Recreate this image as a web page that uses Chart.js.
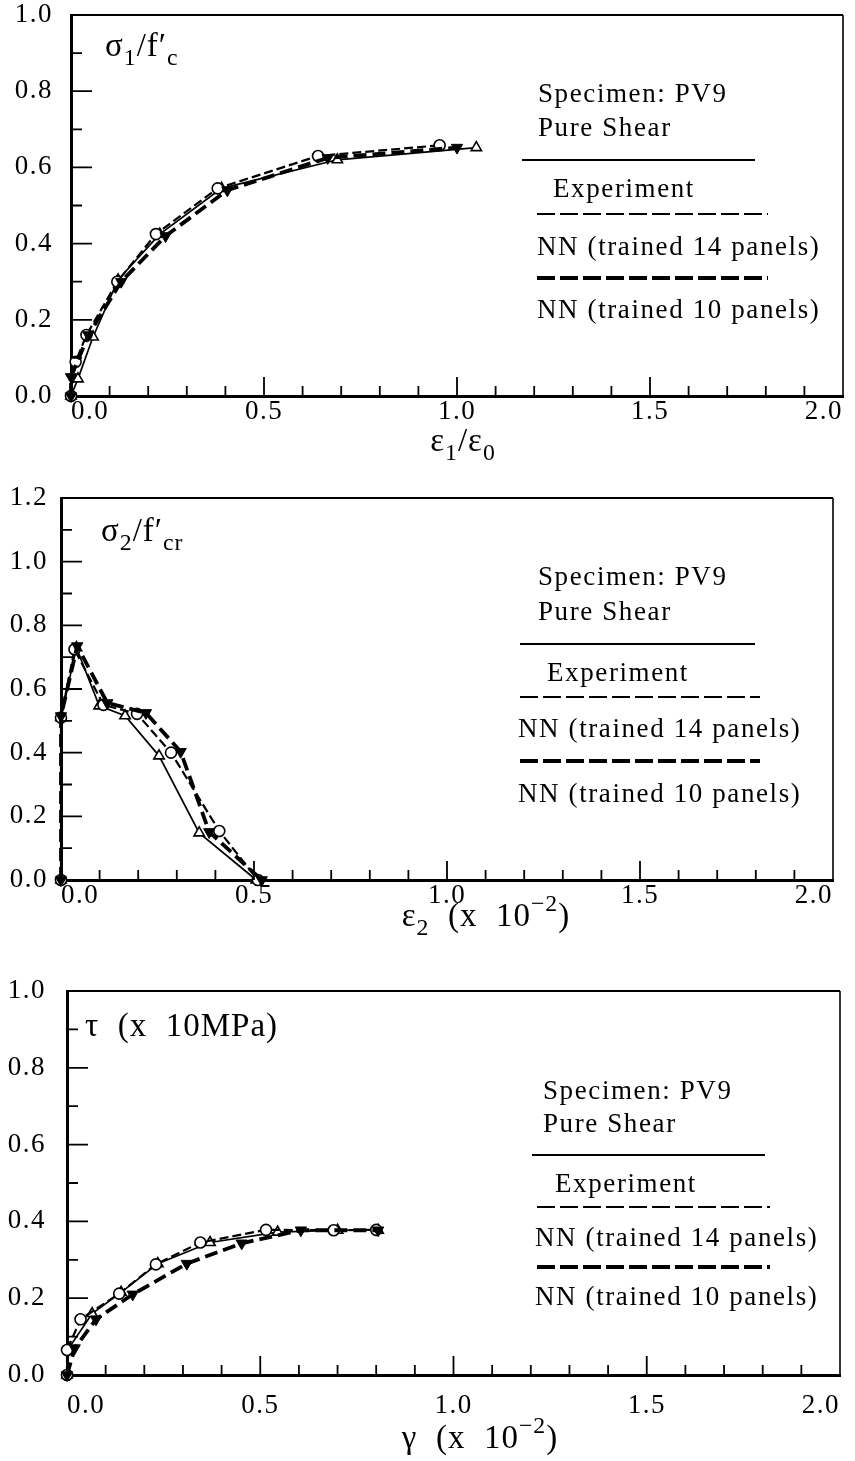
<!DOCTYPE html>
<html>
<head>
<meta charset="utf-8">
<script src="https://cdn.jsdelivr.net/npm/chart.js@4.4.0/dist/chart.umd.min.js"></script>
<style>
    body { margin: 0; background: #fff; width: 855px; height: 1461px; position: relative; overflow: hidden;
           font-family: 'Liberation Serif', 'Times New Roman', serif; color: #000; }
    canvas { position: absolute; left: 0; }
    .txt { position: absolute; white-space: pre; line-height: 1; transform: translateY(-50%); }
    .leg { font-size: 27px; letter-spacing: 1.6px; }
    .ttl { font-size: 33px; letter-spacing: 1px; }
    .mid { transform: translate(-50%, -50%); }
    sub { font-size: 72%; vertical-align: -0.38em; line-height: 0; }
    sup { font-size: 72%; vertical-align: 0.6em; line-height: 0; }
    svg { position: absolute; left: 0; top: 0; }
</style>
</head>
<body>
<canvas id="c1"></canvas>
<canvas id="c2"></canvas>
<canvas id="c3"></canvas>
<svg id="legendLines" width="855" height="1461"></svg>
<div id="labels"></div>

<script>
// 坐标刻度
const xTicks = [0, 0.5, 1.0, 1.5, 2.0];
const yTicks1 = [0, 0.2, 0.4, 0.6, 0.8, 1.0];
const yTicks2 = [0, 0.2, 0.4, 0.6, 0.8, 1.0, 1.2];

// 图1: σ1/f'c - ε1/ε0
const p1ExpX  = [0, 0.018, 0.057, 0.122, 0.23, 0.39, 0.69, 1.05];
const p1ExpY  = [0, 0.045, 0.155, 0.305, 0.425, 0.545, 0.62, 0.652];
const p1Nn14X = [0, 0.012, 0.04, 0.12, 0.22, 0.38, 0.64, 0.955];
const p1Nn14Y = [0, 0.09, 0.16, 0.30, 0.425, 0.545, 0.63, 0.658];
const p1Nn10X = [0, 0.0, 0.045, 0.13, 0.245, 0.405, 0.665, 1.0];
const p1Nn10Y = [0, 0.05, 0.16, 0.30, 0.42, 0.54, 0.625, 0.652];

// 图2: σ2/f'cr - ε2
const p2ExpX  = [0, 0, 0.04, 0.099, 0.166, 0.254, 0.358, 0.506];
const p2ExpY  = [0, 0.51, 0.73, 0.547, 0.516, 0.39, 0.148, 0];
const p2Nn14X = [0, 0, 0.035, 0.11, 0.197, 0.285, 0.41, 0.51];
const p2Nn14Y = [0, 0.51, 0.725, 0.55, 0.522, 0.40, 0.154, 0];
const p2Nn10X = [0, 0, 0.042, 0.12, 0.22, 0.31, 0.384, 0.52];
const p2Nn10Y = [0, 0.515, 0.735, 0.556, 0.525, 0.403, 0.151, 0];

// 图3: τ - γ
const p3ExpX  = [0, 0.005, 0.065, 0.14, 0.235, 0.37, 0.545, 0.70, 0.805];
const p3ExpY  = [0, 0.07, 0.16, 0.215, 0.29, 0.345, 0.372, 0.377, 0.377];
const p3Nn14X = [0, 0.0, 0.035, 0.135, 0.23, 0.345, 0.515, 0.69, 0.80];
const p3Nn14Y = [0, 0.065, 0.145, 0.212, 0.288, 0.345, 0.378, 0.377, 0.378];
const p3Nn10X = [0, 0.02, 0.075, 0.17, 0.31, 0.452, 0.605, 0.805];
const p3Nn10Y = [0, 0.07, 0.145, 0.21, 0.29, 0.343, 0.377, 0.377];

const legendText = ['Specimen: PV9', 'Pure Shear', 'Experiment', 'NN (trained 14 panels)', 'NN (trained 10 panels)'];

function pts(xs, ys) {
    return xs.map((x, i) => ({ x: x, y: ys[i] }));
}

function makeSets(ex, ey, ax, ay, bx, by) {
    return [
        { label: 'Experiment', data: pts(ex, ey), borderColor: '#000', borderWidth: 1.7,
          pointStyle: 'triangle', pointRadius: 6, pointBackgroundColor: '#fff',
          pointBorderColor: '#000', pointBorderWidth: 1.6, order: 3 },
        { label: 'NN (trained 14 panels)', data: pts(ax, ay), borderColor: '#000', borderWidth: 2.2,
          borderDash: [9, 4], pointStyle: 'circle', pointRadius: 5.5, pointBackgroundColor: '#fff',
          pointBorderColor: '#000', pointBorderWidth: 1.6, order: 2 },
        { label: 'NN (trained 10 panels)', data: pts(bx, by), borderColor: '#000', borderWidth: 3.8,
          borderDash: [13, 6], pointStyle: 'triangle', pointRotation: 180, pointRadius: 6.5,
          pointBackgroundColor: '#000', pointBorderColor: '#000', pointBorderWidth: 1, order: 1 }
    ];
}

// 边框 + 向内刻度
const frameTicks = {
    id: 'frameTicks',
    beforeDraw(chart) {
        chart.ctx.letterSpacing = '1.5px';
    },
    afterDraw(chart) {
        const { ctx, chartArea: a, scales: { x, y } } = chart;
        ctx.save();
        ctx.strokeStyle = '#000';
        ctx.lineWidth = 2.2;
        ctx.beginPath();
        ctx.moveTo(a.left, a.top);
        ctx.lineTo(a.right, a.top);
        ctx.stroke();
        ctx.lineWidth = 1.6;
        ctx.beginPath();
        ctx.moveTo(a.right, a.top);
        ctx.lineTo(a.right, a.bottom);
        ctx.stroke();

        ctx.lineWidth = 1.8;
        ctx.beginPath();
        for (let i = 1; i * 0.1 < x.max - 1e-6; i++) {
            const px = x.getPixelForValue(i * 0.1);
            const len = i % 5 === 0 ? 19 : 10;
            ctx.moveTo(px, a.bottom);
            ctx.lineTo(px, a.bottom - len);
        }
        for (let i = 1; i * 0.1 < y.max - 1e-6; i++) {
            const py = y.getPixelForValue(i * 0.1);
            const len = i % 2 === 0 ? 21 : 11;
            ctx.moveTo(a.left, py);
            ctx.lineTo(a.left + len, py);
        }
        ctx.stroke();
        ctx.restore();
    }
};

const panels = [
    { id: 'c1', top: 0, height: 455, left: 71, right: 843, areaTop: 15, areaBottom: 396,
      yMax: 1.0, yTicks: yTicks1, yPad: 18, xPad: 0,
      sets: makeSets(p1ExpX, p1ExpY, p1Nn14X, p1Nn14Y, p1Nn10X, p1Nn10Y) },
    { id: 'c2', top: 460, height: 480, left: 61, right: 833, areaTop: 498, areaBottom: 880,
      yMax: 1.2, yTicks: yTicks2, yPad: 13, xPad: 0,
      sets: makeSets(p2ExpX, p2ExpY, p2Nn14X, p2Nn14Y, p2Nn10X, p2Nn10Y) },
    { id: 'c3', top: 950, height: 511, left: 67, right: 840, areaTop: 991, areaBottom: 1375,
      yMax: 1.0, yTicks: yTicks1, yPad: 21, xPad: 15,
      sets: makeSets(p3ExpX, p3ExpY, p3Nn14X, p3Nn14Y, p3Nn10X, p3Nn10Y) }
];

const tickFont = { family: "'Liberation Serif', serif", size: 27 };

panels.forEach(p => {
    const cv = document.getElementById(p.id);
    cv.width = 855;
    cv.height = p.height;
    cv.style.top = p.top + 'px';
    const xH = p.top + p.height - p.areaBottom;

    new Chart(cv, {
        type: 'scatter',
        data: { datasets: p.sets.map(s => Object.assign({ showLine: true, tension: 0, clip: false, fill: false }, s)) },
        options: {
            responsive: false,
            animation: false,
            events: [],
            layout: { padding: { top: p.areaTop - p.top, right: 855 - p.right, left: 0, bottom: 0 } },
            plugins: { legend: { display: false }, tooltip: { enabled: false } },
            scales: {
                x: {
                    type: 'linear', min: 0, max: 2.0,
                    grid: { display: false, drawTicks: false },
                    border: { display: true, color: '#000', width: 3 },
                    afterBuildTicks: s => { s.ticks = xTicks.map(v => ({ value: v })); },
                    afterFit: s => { s.height = xH; s.paddingLeft = 0; s.paddingRight = 0; },
                    ticks: { color: '#000', font: tickFont, padding: p.xPad, align: 'inner',
                             maxRotation: 0, autoSkip: false, callback: v => v.toFixed(1) }
                },
                y: {
                    type: 'linear', min: 0, max: p.yMax,
                    grid: { display: false, drawTicks: false },
                    border: { display: true, color: '#000', width: 3 },
                    afterBuildTicks: s => { s.ticks = p.yTicks.map(v => ({ value: v })); },
                    afterFit: s => { s.width = p.left; s.paddingTop = 0; s.paddingBottom = 0; },
                    ticks: { color: '#000', font: tickFont, padding: p.yPad, autoSkip: false,
                             callback: v => v.toFixed(1) }
                }
            }
        },
        plugins: [frameTicks]
    });
});

// 文字标注
const labels = document.getElementById('labels');
function addText(html, x, y, cls) {
    const d = document.createElement('div');
    d.className = 'txt ' + cls;
    d.style.left = x + 'px';
    d.style.top = y + 'px';
    d.innerHTML = html;
    labels.appendChild(d);
}

addText('σ<sub>1</sub>/f′<sub>c</sub>', 105, 45, 'ttl');
addText('σ<sub>2</sub>/f′<sub>cr</sub>', 101, 530, 'ttl');
addText('τ  (x  10MPa)', 85, 1025, 'ttl');
addText('ε<sub>1</sub>/ε<sub>0</sub>', 463, 440, 'ttl mid');
addText('ε<sub>2</sub>  (x  10<sup>−2</sup>)', 486, 915, 'ttl mid');
addText('γ  (x  10<sup>−2</sup>)', 480, 1437, 'ttl mid');

// 图例: 文字行 + 三种线型
const legends = [
    { textX: [538, 538, 553, 537, 537], textY: [93, 127, 188, 246, 309],
      lineX: [[522, 755], [537, 768], [537, 768]], lineY: [160, 214, 278] },
    { textX: [538, 538, 547, 518, 518], textY: [576, 611, 672, 728, 793],
      lineX: [[520, 755], [520, 760], [520, 760]], lineY: [644, 697, 761] },
    { textX: [543, 543, 555, 535, 535], textY: [1090, 1123, 1183, 1237, 1296],
      lineX: [[532, 765], [537, 770], [537, 770]], lineY: [1155, 1207, 1267] }
];
const lineStyles = [
    { w: 1.8, dash: '' },
    { w: 2.2, dash: '18 5' },
    { w: 3.8, dash: '18 5' }
];

const svg = document.getElementById('legendLines');
legends.forEach(lg => {
    legendText.forEach((t, i) => addText(t, lg.textX[i], lg.textY[i], 'leg'));
    lg.lineY.forEach((ly, i) => {
        const ln = document.createElementNS('http://www.w3.org/2000/svg', 'line');
        ln.setAttribute('x1', lg.lineX[i][0]);
        ln.setAttribute('x2', lg.lineX[i][1]);
        ln.setAttribute('y1', ly);
        ln.setAttribute('y2', ly);
        ln.setAttribute('stroke', '#000');
        ln.setAttribute('stroke-width', lineStyles[i].w);
        if (lineStyles[i].dash) ln.setAttribute('stroke-dasharray', lineStyles[i].dash);
        svg.appendChild(ln);
    });
});
</script>
</body>
</html>
